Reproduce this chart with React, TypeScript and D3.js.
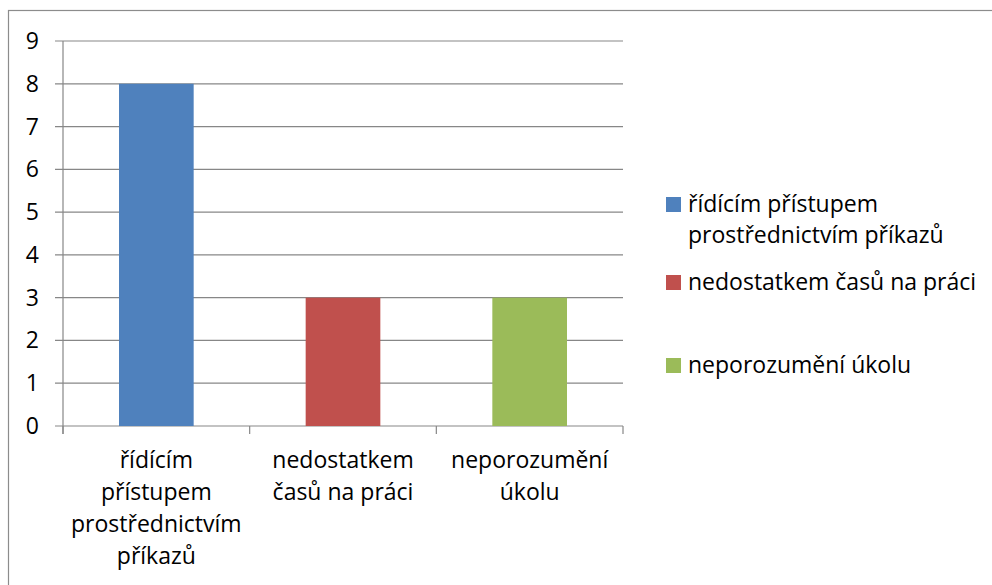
import React from "react";
import * as d3 from "d3";

const categories: string[] = [
  "řídícím přístupem prostřednictvím příkazů",
  "nedostatkem časů na práci",
  "neporozumění úkolu",
];
const categoryLines: string[][] = [
  ["řídícím", "přístupem", "prostřednictvím", "příkazů"],
  ["nedostatkem", "časů na práci"],
  ["neporozumění", "úkolu"],
];
const values: number[] = [8, 3, 3];
const colors: string[] = ["#4F81BD", "#C0504D", "#9BBB59"];
const legendLines: string[][] = [
  ["řídícím přístupem", "prostřednictvím příkazů"],
  ["nedostatkem časů na práci"],
  ["neporozumění úkolu"],
];
const yTicks: number[] = [0, 1, 2, 3, 4, 5, 6, 7, 8, 9];

const W = 992;
const H = 585;
const plot = { left: 63, right: 623, top: 41, bottom: 426 };
const FONT = "'Open Sans', Lato, sans-serif";
const FS = 23;
const GRID = "#878787";

export default function App() {
  const x = d3
    .scaleBand<string>()
    .domain(categories)
    .range([plot.left, plot.right])
    .paddingInner(0.6)
    .paddingOuter(0.3);
  const xOuter = d3.scaleBand<string>().domain(categories).range([plot.left, plot.right]);
  const y = d3.scaleLinear().domain([0, 9]).range([plot.bottom, plot.top]);

  const boundaries = [plot.left, ...categories.map((c) => (xOuter(c) as number) + xOuter.bandwidth())];
  const legendY = [212, 290, 373];

  return (
    <svg
      width={W}
      height={H}
      style={{ position: "absolute", left: 0, top: 0, background: "#fff" }}
      fontFamily={FONT}
    >
      <rect x={0} y={0} width={W} height={H} fill="#fff" />
      <rect x={8.5} y={10.5} width={W + 20} height={H + 20} fill="none" stroke="#8c8c8c" strokeWidth={1.2} />
      {yTicks.map((t) => (
        <g key={t}>
          <line x1={plot.left - 8} x2={plot.right} y1={y(t)} y2={y(t)} stroke={GRID} strokeWidth={1.2} />
          <text x={39} y={y(t) + 8} textAnchor="end" fontSize={FS} fill="#000">
            {t}
          </text>
        </g>
      ))}
      <line x1={plot.left} x2={plot.left} y1={plot.top} y2={plot.bottom + 8} stroke={GRID} strokeWidth={1.2} />
      {boundaries.map((bx, i) => (
        <line key={i} x1={bx} x2={bx} y1={plot.bottom} y2={plot.bottom + 8} stroke={GRID} strokeWidth={1.2} />
      ))}
      {categories.map((c, i) => (
        <rect
          key={c}
          x={x(c)}
          y={y(values[i])}
          width={x.bandwidth()}
          height={y(0) - y(values[i])}
          fill={colors[i]}
        />
      ))}
      {categories.map((c, i) => {
        const cx = (xOuter(c) as number) + xOuter.bandwidth() / 2;
        return (
          <text key={c} x={cx} textAnchor="middle" fontSize={FS} fill="#000">
            {categoryLines[i].map((ln, j) => (
              <tspan key={j} x={cx} y={468 + j * 32}>
                {ln}
              </tspan>
            ))}
          </text>
        );
      })}
      {categories.map((c, i) => (
        <g key={c}>
          <rect x={666} y={legendY[i] - 15} width={15} height={15} fill={colors[i]} />
          <text x={688} fontSize={FS} fill="#000">
            {legendLines[i].map((ln, j) => (
              <tspan key={j} x={688} y={legendY[i] + j * 31}>
                {ln}
              </tspan>
            ))}
          </text>
        </g>
      ))}
    </svg>
  );
}
